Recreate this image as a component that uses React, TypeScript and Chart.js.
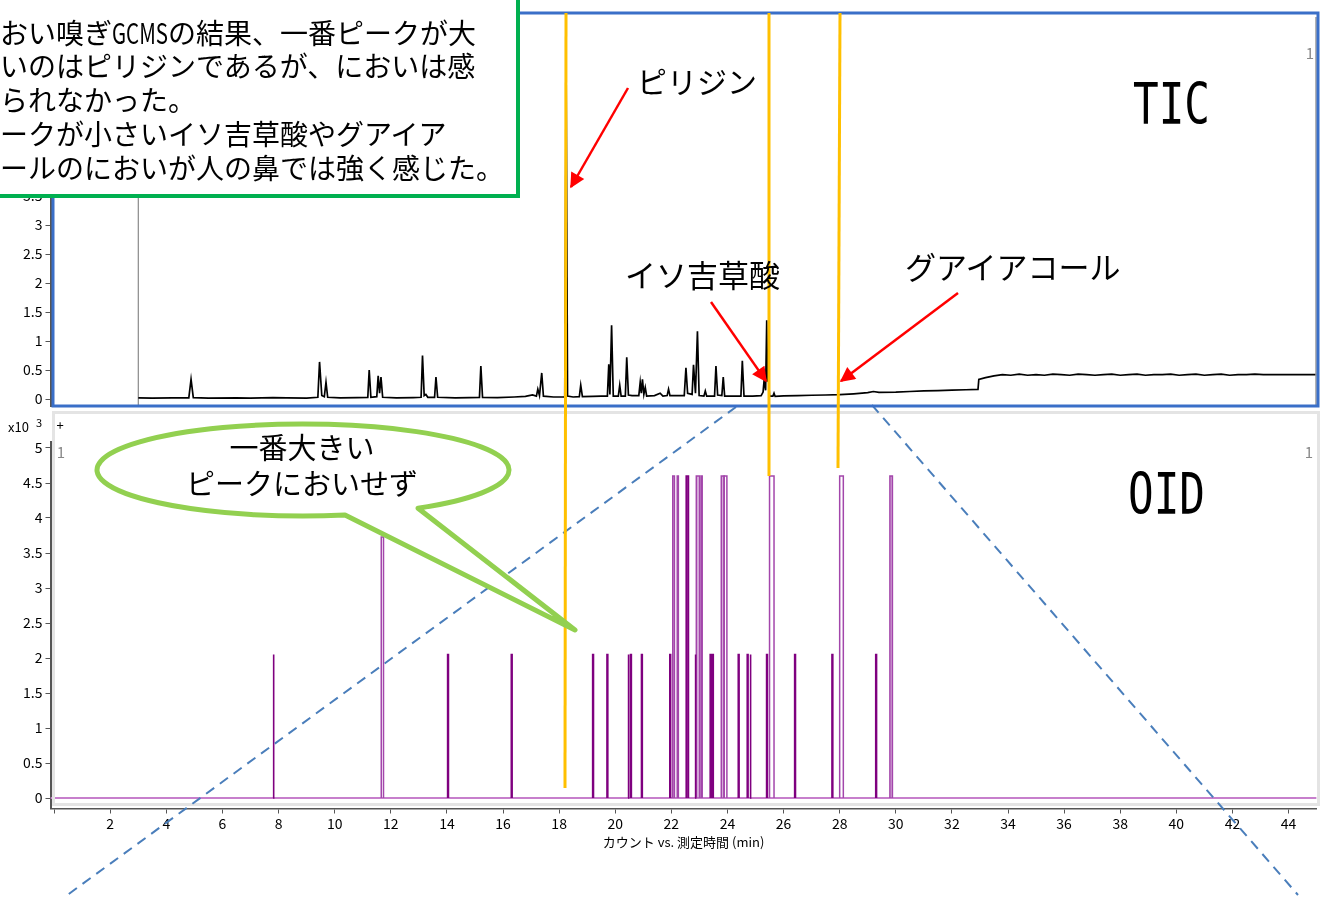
import React, { useEffect, useRef } from "react";
import { Chart, registerables } from "chart.js";

Chart.register(...registerables);

// ---------- data ----------
const X_MIN = -0.13;
const X_MAX = 45;
const X_TICKS = [0, 2, 4, 6, 8, 10, 12, 14, 16, 18, 20, 22, 24, 26, 28, 30, 32, 34, 36, 38, 40, 42, 44];
const X_TITLE = "カウント vs. 測定時間 (min)";

const TIC_Y_TICKS = [0, 0.5, 1, 1.5, 2, 2.5, 3, 3.5, 4, 4.5, 5, 5.5, 6, 6.5];
const TIC_Y_MIN = -0.12;
const TIC_Y_MAX = 6.6;
const TIC_START = 3;

const TIC_POINTS: [number, number][] = [
  [3.0, 0.02], [3.5, 0.015], [4.2, 0.02], [4.8, 0.02], [4.88, 0.34], [4.96, 0.025], [5.5, 0.015],
  [6.5, 0.02], [7.0, 0.015], [7.8, 0.025], [8.3, 0.02], [9.0, 0.015], [9.4, 0.03], [9.46, 0.64],
  [9.54, 0.06], [9.63, 0.04], [9.69, 0.29], [9.75, 0.03], [10.2, 0.02], [10.8, 0.025], [11.18, 0.03],
  [11.23, 0.5], [11.29, 0.03], [11.5, 0.04], [11.55, 0.4], [11.6, 0.1], [11.65, 0.38], [11.71, 0.03],
  [12.2, 0.02], [12.8, 0.025], [13.08, 0.03], [13.13, 0.75], [13.19, 0.06], [13.25, 0.08], [13.32, 0.03],
  [13.56, 0.03], [13.61, 0.38], [13.67, 0.03], [14.3, 0.02], [14.8, 0.025], [15.16, 0.03], [15.21, 0.57],
  [15.27, 0.03], [15.8, 0.025], [16.4, 0.035], [16.8, 0.045], [17.05, 0.07], [17.19, 0.05], [17.24, 0.17],
  [17.3, 0.06], [17.38, 0.45], [17.44, 0.05], [17.8, 0.035], [18.2, 0.035], [18.25, 5.59], [18.3, 0.05],
  [18.5, 0.035], [18.72, 0.04], [18.77, 0.24], [18.83, 0.04], [19.2, 0.045], [19.5, 0.05], [19.72, 0.05],
  [19.77, 0.6], [19.81, 0.08], [19.87, 1.27], [19.93, 0.05], [20.11, 0.05], [20.16, 0.24], [20.21, 0.05],
  [20.36, 0.05], [20.41, 0.72], [20.47, 0.07], [20.6, 0.06], [20.84, 0.06], [20.89, 0.29], [20.93, 0.1],
  [20.97, 0.34], [21.02, 0.08], [21.07, 0.2], [21.12, 0.05], [21.4, 0.06], [21.6, 0.1], [21.7, 0.05],
  [21.85, 0.06], [21.9, 0.17], [21.95, 0.06], [22.2, 0.06], [22.46, 0.06], [22.52, 0.54], [22.58, 0.1],
  [22.74, 0.08], [22.79, 0.59], [22.86, 0.1], [22.93, 1.17], [22.99, 0.06], [23.16, 0.05], [23.21, 0.14],
  [23.26, 0.05], [23.54, 0.05], [23.59, 0.57], [23.65, 0.07], [23.8, 0.06], [23.85, 0.38], [23.9, 0.05],
  [24.2, 0.05], [24.48, 0.05], [24.53, 0.66], [24.59, 0.05], [24.9, 0.05], [25.2, 0.06], [25.27, 0.12],
  [25.31, 0.34], [25.36, 0.15], [25.4, 1.36], [25.43, 0.3], [25.45, 0.47], [25.5, 0.05], [25.62, 0.05],
  [25.66, 0.1], [25.7, 0.045], [26.0, 0.055], [26.5, 0.06], [27.0, 0.065], [27.5, 0.07], [28.0, 0.075],
  [28.5, 0.09], [29.0, 0.11], [29.2, 0.13], [29.4, 0.115], [30.0, 0.12], [30.5, 0.13], [31.0, 0.14],
  [31.5, 0.145], [32.0, 0.155], [32.5, 0.16], [32.93, 0.165], [32.96, 0.34], [33.2, 0.37], [33.5, 0.4],
  [33.8, 0.42], [34.1, 0.41], [34.4, 0.43], [34.7, 0.41], [35.0, 0.42], [35.3, 0.41], [35.6, 0.43],
  [35.9, 0.42], [36.2, 0.41], [36.5, 0.43], [36.8, 0.42], [37.1, 0.41], [37.4, 0.42], [37.7, 0.43],
  [38.0, 0.41], [38.3, 0.42], [38.6, 0.43], [38.9, 0.41], [39.2, 0.42], [39.5, 0.42], [39.8, 0.43],
  [40.1, 0.41], [40.4, 0.42], [40.7, 0.43], [41.0, 0.41], [41.3, 0.42], [41.6, 0.43], [41.9, 0.41],
  [42.2, 0.42], [42.5, 0.42], [42.8, 0.43], [43.1, 0.42], [43.4, 0.42], [43.8, 0.42], [44.3, 0.42],
  [45.0, 0.42],
];

const OID_Y_TICKS = [0, 0.5, 1, 1.5, 2, 2.5, 3, 3.5, 4, 4.5, 5];
const OID_Y_MIN = -0.15;
const OID_Y_MAX = 5.08;

const OID_SHORT_HEIGHT = 2.05;
const OID_SHORT_TIMES = [
  7.82, 14.04, 16.31, 19.21, 19.72, 20.47, 20.56, 20.95, 21.96, 22.86, 23.4, 23.48, 24.4, 24.72,
  24.82, 25.41, 26.41, 27.74, 29.3,
];
// [start, end, height]
const OID_OUTLINE_PULSES: [number, number, number][] = [
  [11.66, 11.74, 3.73],
  [22.05, 22.11, 4.6],
  [22.21, 22.25, 4.6],
  [23.06, 23.1, 4.6],
  [23.88, 23.98, 4.6],
  [25.5, 25.66, 4.6],
  [28.0, 28.13, 4.6],
];
const OID_DARK_PULSES: [number, number, number][] = [[22.53, 22.61, 4.6]];
const OID_FILLED_PULSES: [number, number, number][] = [
  [22.89, 23.01, 4.6],
  [23.78, 23.88, 4.6],
  [29.79, 29.88, 4.6],
];

// ---------- helpers ----------
function pulsePoints(list: [number, number, number][]) {
  const pts: { x: number; y: number | null }[] = [];
  list.forEach(([s, e, h]) => {
    pts.push({ x: s, y: 0 }, { x: s, y: h }, { x: e, y: h }, { x: e, y: 0 }, { x: e, y: null });
  });
  return pts;
}

const FONT = "'Noto Sans CJK JP', 'Noto Sans', sans-serif";

function yAxis(min: number, max: number, ticks: number[]) {
  return {
    type: "linear" as const,
    min,
    max,
    afterFit: (s: any) => {
      s.width = 50.5;
    },
    afterBuildTicks: (s: any) => {
      s.ticks = ticks.map((v) => ({ value: v }));
    },
    ticks: {
      callback: (v: any) => String(v),
      color: "#000",
      font: { size: 14, family: FONT },
      padding: 3,
    },
    grid: { drawOnChartArea: false, drawTicks: true, tickLength: 5, color: "#555" },
    border: { display: true, color: "#555", width: 2 },
  };
}

// speech bubble geometry
const BUB = { cx: 303, cy: 470, rx: 206, ry: 46 };
function bubbleY(x: number) {
  const d = (x - BUB.cx) / BUB.rx;
  return BUB.cy + BUB.ry * Math.sqrt(1 - d * d);
}
const BUB_A = { x: 345, y: bubbleY(345) };
const BUB_B = { x: 418, y: bubbleY(418) };
const BUB_TIP = { x: 575, y: 630 };
const BUBBLE_PATH = `M ${BUB_A.x} ${BUB_A.y} A ${BUB.rx} ${BUB.ry} 0 1 1 ${BUB_B.x} ${BUB_B.y} L ${BUB_TIP.x} ${BUB_TIP.y} Z`;

export default function App() {
  const ticRef = useRef<HTMLCanvasElement | null>(null);
  const oidRef = useRef<HTMLCanvasElement | null>(null);

  useEffect(() => {
    Chart.defaults.font.family = FONT;
    const tic = new Chart(ticRef.current as HTMLCanvasElement, {
      type: "line",
      data: {
        datasets: [
          {
            data: TIC_POINTS.map(([x, y]) => ({ x, y })),
            borderColor: "#000",
            borderWidth: 1.7,
            pointRadius: 0,
            tension: 0,
          },
          {
            data: [
              { x: TIC_START, y: TIC_Y_MIN },
              { x: TIC_START, y: TIC_Y_MAX },
            ],
            borderColor: "#8a8a8a",
            borderWidth: 1.2,
            pointRadius: 0,
          },
        ],
      },
      options: {
        responsive: false,
        animation: false,
        events: [],
        layout: { padding: { top: 16.2, bottom: 14, left: 0, right: 5.4 } },
        plugins: { legend: { display: false }, tooltip: { enabled: false } },
        scales: {
          x: { type: "linear", min: X_MIN, max: X_MAX, display: false },
          y: yAxis(TIC_Y_MIN, TIC_Y_MAX, TIC_Y_TICKS) as any,
        },
      },
    });

    const oid = new Chart(oidRef.current as HTMLCanvasElement, {
      type: "line",
      data: {
        datasets: [
          {
            data: pulsePoints(OID_SHORT_TIMES.map((t) => [t - 0.015, t + 0.015, OID_SHORT_HEIGHT] as [number, number, number])),
            borderColor: "#7f007f",
            borderWidth: 1.6,
            pointRadius: 0,
            spanGaps: false,
          },
          {
            data: pulsePoints(OID_DARK_PULSES),
            borderColor: "#7f007f",
            backgroundColor: "rgba(127,0,127,0.85)",
            fill: "origin",
            borderWidth: 1.6,
            pointRadius: 0,
            spanGaps: false,
          },
          {
            data: pulsePoints(OID_OUTLINE_PULSES),
            borderColor: "#a346ab",
            borderWidth: 1.5,
            pointRadius: 0,
            spanGaps: false,
          },
          {
            data: pulsePoints(OID_FILLED_PULSES),
            borderColor: "#a346ab",
            backgroundColor: "rgba(163,70,171,0.45)",
            fill: "origin",
            borderWidth: 1.5,
            pointRadius: 0,
            spanGaps: false,
          },
          {
            data: [
              { x: X_MIN, y: 0 },
              { x: X_MAX, y: 0 },
            ],
            borderColor: "#c77fcc",
            borderWidth: 2,
            pointRadius: 0,
          },
        ],
      },
      options: {
        responsive: false,
        animation: false,
        events: [],
        layout: { padding: { top: 32.4, bottom: 31.5, left: 0, right: 5.4 } },
        plugins: { legend: { display: false }, tooltip: { enabled: false } },
        scales: {
          x: {
            type: "linear",
            min: X_MIN,
            max: X_MAX,
            afterFit: (s: any) => {
              s.height = 60;
            },
            afterBuildTicks: (s: any) => {
              s.ticks = X_TICKS.map((v) => ({ value: v }));
            },
            ticks: {
              callback: (v: any) => (v === 0 ? "" : String(v)),
              maxRotation: 0,
              autoSkip: false,
              color: "#000",
              font: { size: 14, family: FONT },
              padding: 2,
            },
            grid: { drawOnChartArea: false, drawTicks: true, tickLength: 5, color: "#555" },
            border: { display: true, color: "#555", width: 1.5 },
            title: {
              display: true,
              text: X_TITLE,
              color: "#000",
              font: { size: 13, family: FONT },
              padding: { top: 0, bottom: 18.7 },
            },
          },
          y: yAxis(OID_Y_MIN, OID_Y_MAX, OID_Y_TICKS) as any,
        },
      },
    });

    return () => {
      tic.destroy();
      oid.destroy();
    };
  }, []);

  const jp = { fontFamily: FONT } as const;

  return (
    <div
      style={{
        position: "fixed",
        left: 0,
        top: 0,
        width: 1322,
        height: 900,
        background: "#fff",
        overflow: "hidden",
      }}
    >
      <canvas ref={oidRef} width={1322} height={490} style={{ position: "absolute", left: 0, top: 410, display: "block" }} />
      <canvas ref={ticRef} width={1322} height={420} style={{ position: "absolute", left: 0, top: 0, display: "block" }} />
      <svg width={1322} height={900} style={{ position: "absolute", left: 0, top: 0 }}>
        <defs>
          <marker id="arrowRed" viewBox="0 0 10 10" refX="9" refY="5" markerWidth="7" markerHeight="6" orient="auto" markerUnits="strokeWidth">
            <path d="M0,0 L10,5 L0,10 z" fill="#ff0000" />
          </marker>
        </defs>

        {/* panel frames */}
        <rect x={53.5} y={412.5} width={1265} height={392} fill="none" stroke="#e4e4e4" strokeWidth={3} />
        <line x1={1316} y1={17} x2={1316} y2={405} stroke="#9a9a9a" strokeWidth={1.5} />
        <text x={1310} y={59} fontSize={15} fill="#888" textAnchor="middle" style={jp}>1</text>
        <text x={61} y={458} fontSize={15} fill="#888" textAnchor="middle" style={jp}>1</text>
        <text x={1309} y={458} fontSize={15} fill="#888" textAnchor="middle" style={jp}>1</text>
        <text x={8} y={432} fontSize={13} fill="#000" style={jp}>x10</text>
        <text x={36} y={427} fontSize={11} fill="#000" style={jp}>3</text>
        <text x={60} y={430} fontSize={13} fill="#000" textAnchor="middle" style={jp}>+</text>

        {/* dashed zoom lines */}
        <line x1={736} y1={407} x2={66} y2={896} stroke="#4a7ebb" strokeWidth={2} strokeDasharray="10 7" />
        <line x1={872} y1={405} x2={1298} y2={895} stroke="#4a7ebb" strokeWidth={2} strokeDasharray="10 7" />

        {/* blue TIC frame */}
        <rect x={53} y={13} width={1265} height={393} fill="none" stroke="#3a6fc8" strokeWidth={3} />

        {/* yellow markers */}
        <line x1={566} y1={13} x2={565} y2={788} stroke="#ffc000" strokeWidth={3} />
        <line x1={769} y1={13} x2={769} y2={476} stroke="#ffc000" strokeWidth={3} />
        <line x1={840} y1={13} x2={838} y2={468} stroke="#ffc000" strokeWidth={3} />

        {/* red arrows */}
        <line x1={628} y1={88} x2={571} y2={187} stroke="#ff0000" strokeWidth={2.5} markerEnd="url(#arrowRed)" />
        <line x1={711} y1={302} x2={766} y2={381} stroke="#ff0000" strokeWidth={2.5} markerEnd="url(#arrowRed)" />
        <line x1={958} y1={293} x2={841} y2={381} stroke="#ff0000" strokeWidth={2.5} markerEnd="url(#arrowRed)" />

        {/* labels */}
        <text x={637} y={93} fontSize={30} fill="#000" style={jp}>ピリジン</text>
        <text x={625} y={287} fontSize={31} fill="#000" style={jp}>イソ吉草酸</text>
        <text x={905} y={279} fontSize={31} fill="#000" style={jp}>グアイアコール</text>
        <text x={1133} y={124} fontSize={57} fill="#000" textLength={77} lengthAdjust="spacingAndGlyphs" style={{ fontFamily: "'DejaVu Sans Mono', monospace" }}>TIC</text>
        <text x={1128} y={514} fontSize={57} fill="#000" textLength={77} lengthAdjust="spacingAndGlyphs" style={{ fontFamily: "'DejaVu Sans Mono', monospace" }}>OID</text>

        {/* speech bubble */}
        <path d={BUBBLE_PATH} fill="#fff" stroke="#92d050" strokeWidth={5} strokeLinejoin="round" />
        <text x={302} y={459} fontSize={29} fill="#000" textAnchor="middle" style={jp}>一番大きい</text>
        <text x={302} y={495} fontSize={29} fill="#000" textAnchor="middle" style={jp}>ピークにおいせず</text>

        {/* text box */}
        <rect x={-10} y={-4} width={528} height={200} fill="#fff" stroke="#00b050" strokeWidth={4} />
        <text x={0} y={43.6} fontSize={28} fill="#000" style={jp}>おい嗅ぎ</text>
        <text x={112} y={43.6} fontSize={28} fill="#000" textLength={56} lengthAdjust="spacingAndGlyphs" style={jp}>GCMS</text>
        <text x={168} y={43.6} fontSize={28} fill="#000" style={jp}>の結果、一番ピークが大</text>
        <text x={0} y={77.4} fontSize={28} fill="#000" style={jp}>いのはピリジンであるが、においは感</text>
        <text x={0} y={111} fontSize={28} fill="#000" style={jp}>られなかった。</text>
        <text x={0} y={144.6} fontSize={28} fill="#000" style={jp}>ークが小さいイソ吉草酸やグアイア</text>
        <text x={0} y={178.6} fontSize={28} fill="#000" style={jp}>ールのにおいが人の鼻では強く感じた。</text>
      </svg>
    </div>
  );
}
